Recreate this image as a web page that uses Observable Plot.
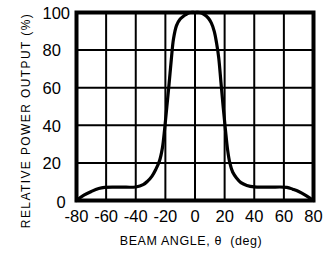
<!DOCTYPE html>
<html>
<head>
<meta charset="utf-8">
<script src="https://cdn.jsdelivr.net/npm/d3@7"></script>
<script src="https://cdn.jsdelivr.net/npm/@observablehq/plot@0.6"></script>
<style>
  html, body { margin: 0; padding: 0; background: #fff; }
</style>
</head>
<body>
<div id="chart"></div>
<script>
const angles = [-80, -75, -70, -65, -61, -50, -40, -35, -32, -29, -26.5, -24, -22, -20.5, -19, -17.5, -16, -14.5, -12.5, -10, -7, -5, -3, 0, 3, 6, 9, 11, 13, 14.5, 16, 17.5, 19, 20.5, 22, 23.5, 25.5, 28, 31, 35, 40, 50, 62, 66, 70, 75, 80];
const power  = [0, 2.8, 4.8, 6.4, 7, 7.1, 7.2, 8.4, 10.3, 13, 16.5, 21, 28, 38, 50, 62, 75, 86, 93, 96.5, 98.5, 99.5, 100, 100, 100, 99, 97, 94.5, 90, 84, 76, 63, 50, 38, 27, 20, 15, 12, 9.5, 8, 7.2, 7.1, 7, 6, 4.8, 2.6, 0];
const xTicks = [-80, -60, -40, -20, 0, 20, 40, 60, 80];
const yTicks = [0, 20, 40, 60, 80, 100];
const xTitle = "BEAM ANGLE, \u03B8  (deg)";
const yTitle = "RELATIVE POWER OUTPUT (%)";

const data = angles.map((a, i) => ({angle: a, power: power[i]}));

const chart = Plot.plot({
  width: 330,
  height: 253,
  marginLeft: 76,
  marginRight: 17,
  marginTop: 12,
  marginBottom: 53,
  style: {fontFamily: "'Liberation Sans', Arial, sans-serif", fontSize: "16px", background: "#fff", color: "#000"},
  x: {domain: [-80, 80]},
  y: {domain: [0, 100]},
  marks: [
    Plot.ruleX(xTicks, {stroke: "#000", strokeWidth: 2}),
    Plot.ruleY(yTicks, {stroke: "#000", strokeWidth: 2}),
    Plot.line(data, {x: "angle", y: "power", stroke: "#000", strokeWidth: 3.2, curve: "catmull-rom", strokeLinejoin: "round"}),
    Plot.frame({stroke: "#000", strokeWidth: 4}),
    Plot.axisX(xTicks, {tickSize: 0, tickPadding: 10, fontSize: 16.5, label: null, tickFormat: d => String(d)}),
    Plot.axisY(yTicks.filter(d => d > 0), {tickSize: 0, tickPadding: 0, textAnchor: "start", dx: -34, dy: 1, fontSize: 16.5, label: null}),
    Plot.axisY(yTicks.filter(d => d === 0), {tickSize: 0, tickPadding: 0, textAnchor: "start", dx: -20, dy: 2, fontSize: 16.5, label: null}),
    Plot.text([xTitle], {text: d => d, frameAnchor: "bottom", textAnchor: "middle", lineAnchor: "middle", dx: -4, dy: 40, fontSize: 12.5}),
    Plot.text([yTitle], {text: d => d, frameAnchor: "left", textAnchor: "middle", lineAnchor: "middle", rotate: -90, dx: -50, dy: 14, fontSize: 12})
  ]
});
document.getElementById("chart").appendChild(chart);
d3.select(chart).selectAll("text").filter(function() { return this.textContent === yTitle; }).style("letter-spacing", "1.4px");
d3.select(chart).selectAll("text").filter(function() { return this.textContent === xTitle; }).style("letter-spacing", "0.6px");
</script>
</body>
</html>
